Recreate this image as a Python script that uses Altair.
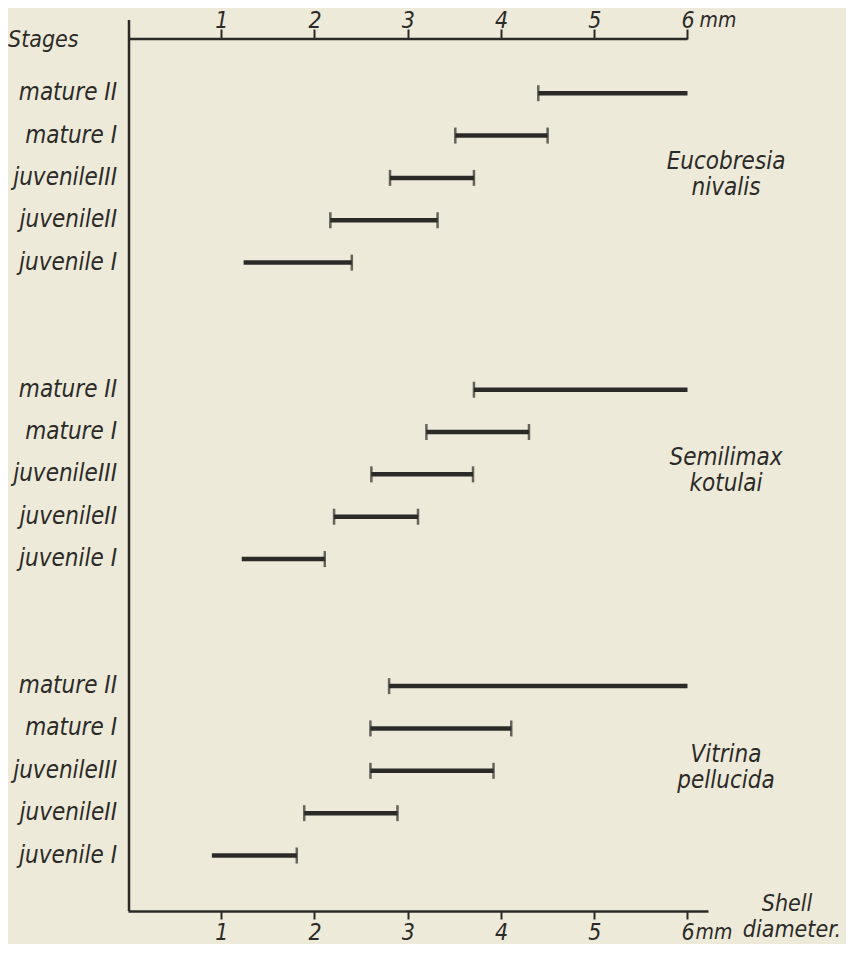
import altair as alt
import pandas as pd

# ---- data (shell diameter in mm) ----
stages = ["mature II", "mature I", "juvenileIII", "juvenileII", "juvenile I"]
species = ["Eucobresia\nnivalis", "Semilimax\nkotulai", "Vitrina\npellucida"]

eucobresia_from = [4.40, 3.51, 2.81, 2.17, 1.24]
eucobresia_to = [6.00, 4.50, 3.71, 3.32, 2.40]
semilimax_from = [3.71, 3.20, 2.61, 2.21, 1.22]
semilimax_to = [6.00, 4.30, 3.70, 3.11, 2.11]
vitrina_from = [2.80, 2.60, 2.60, 1.89, 0.90]
vitrina_to = [6.00, 4.11, 3.92, 2.89, 1.81]

tick_values = [1, 2, 3, 4, 5, 6]
unit_label = "mm"

# ---- build table ----
froms = [eucobresia_from, semilimax_from, vitrina_from]
tos = [eucobresia_to, semilimax_to, vitrina_to]
GROUP_STEP = len(stages) + 2  # two empty rows between species
records = []
for g, sp in enumerate(species):
    for s, st in enumerate(stages):
        records.append({"species": sp, "stage": st, "row": g * GROUP_STEP + s,
                        "start": froms[g][s], "end": tos[g][s]})
df = pd.DataFrame(records)
df_sp = pd.DataFrame({"species": species,
                      "row": [g * GROUP_STEP + (len(stages) - 1) / 2 for g in range(len(species))]})
n_rows = (len(species) - 1) * GROUP_STEP + len(stages)

INK = "#2b2a28"
BG = "#eeead9"
FONT = "DejaVu Sans Condensed, Liberation Sans Narrow, DejaVu Sans, sans-serif"
W, H = 580, 872

xs = alt.Scale(domain=[0, 6.22], nice=False, zero=False)
ys = alt.Scale(domain=[-1.28, n_rows - 1 + 1.31], reverse=True, nice=False, zero=False)

top_axis = alt.Axis(orient="top", values=tick_values, domain=False, grid=False, title=None,
                    tickSize=10, tickWidth=2, tickColor=INK, labelColor=INK,
                    labelFont=FONT, labelFontSize=23, labelFontStyle="italic",
                    labelBaseline="alphabetic", labelPadding=2, format="d", labelFlush=False)
bottom_axis = alt.Axis(orient="bottom", values=tick_values, domain=True, domainColor=INK,
                       domainWidth=2.5, grid=False, title=None,
                       tickSize=8, tickWidth=2, tickColor=INK, labelColor=INK,
                       labelFont=FONT, labelFontSize=23, labelFontStyle="italic",
                       labelBaseline="alphabetic", labelPadding=20, format="d",
                       labelFlush=False)

base = alt.Chart(df)

bars = base.mark_rule(strokeWidth=4.5, color=INK).encode(
    x=alt.X("start:Q", scale=xs, axis=top_axis),
    x2="end:Q",
    y=alt.Y("row:Q", scale=ys, axis=None),
)

left_caps = base.transform_filter(alt.datum.stage != stages[-1]).mark_tick(
    orient="vertical", size=16, thickness=2.5, color=INK
).encode(
    x=alt.X("start:Q", scale=xs, axis=bottom_axis),
    y=alt.Y("row:Q", scale=ys, axis=None),
)

right_caps = base.transform_filter(alt.datum.stage != stages[0]).mark_tick(
    orient="vertical", size=16, thickness=2.5, color=INK
).encode(
    x=alt.X("end:Q", scale=xs, axis=None),
    y=alt.Y("row:Q", scale=ys, axis=None),
)

stage_labels = base.mark_text(align="right", baseline="middle", font=FONT, fontSize=24,
                              fontStyle="italic", color=INK).encode(
    x=alt.value(-11),
    y=alt.Y("row:Q", scale=ys, axis=None),
    text="stage:N",
)

species_labels = alt.Chart(df_sp).mark_text(align="center", baseline="middle", font=FONT,
                                            fontSize=24, fontStyle="italic", color=INK,
                                            lineBreak="\n", lineHeight=26, dy=-16).encode(
    x=alt.value(598),
    y=alt.Y("row:Q", scale=ys, axis=None),
    text="species:N",
)

df_top = pd.DataFrame({"a": [0], "b": [max(tick_values)]})
top_line = alt.Chart(df_top).mark_rule(strokeWidth=2.5, color=INK).encode(
    x=alt.X("a:Q", scale=xs, axis=None), x2="b:Q", y=alt.value(0)
)

left_line = alt.Chart(df_top).mark_rule(strokeWidth=2.5, color=INK).encode(
    x=alt.value(1), y=alt.value(-19), y2=alt.value(H)
)

df_mm = pd.DataFrame({"v": [max(tick_values)], "t": [unit_label]})
mm_top = alt.Chart(df_mm).mark_text(align="left", baseline="alphabetic", font=FONT,
                                    fontSize=21, fontStyle="italic", color=INK, dx=12).encode(
    x=alt.X("v:Q", scale=xs, axis=None), y=alt.value(-12), text="t:N"
)
mm_bottom = alt.Chart(df_mm).mark_text(align="left", baseline="alphabetic", font=FONT,
                                       fontSize=21, fontStyle="italic", color=INK, dx=8).encode(
    x=alt.X("v:Q", scale=xs, axis=None), y=alt.value(H + 28), text="t:N"
)

stages_title = alt.Chart(df_top).mark_text(align="left", baseline="middle", font=FONT,
                                           fontSize=23, fontStyle="italic", color=INK).encode(
    x=alt.value(-120), y=alt.value(1), text=alt.value("Stages")
)
shell_title = alt.Chart(df_top).mark_text(align="center", baseline="middle", font=FONT,
                                          fontSize=23, fontStyle="italic", color=INK).encode(
    x=alt.value(659), y=alt.value(H - 7), text=alt.value("Shell")
)
diam_title = alt.Chart(df_top).mark_text(align="center", baseline="middle", font=FONT,
                                         fontSize=23, fontStyle="italic", color=INK).encode(
    x=alt.value(664), y=alt.value(H + 19), text=alt.value("diameter.")
)

chart = alt.layer(
    left_line, top_line, bars, left_caps, right_caps, stage_labels, species_labels,
    mm_top, mm_bottom, stages_title, shell_title, diam_title
).resolve_axis(x="independent").properties(
    width=W, height=H,
    autosize=alt.AutoSizeParams(type="none"),
    padding={"left": 120, "top": 31, "right": 138, "bottom": 33},
    background=BG,
).configure_view(stroke=None)

chart.save("out.html", embed_options={"renderer": "svg", "actions": False})
